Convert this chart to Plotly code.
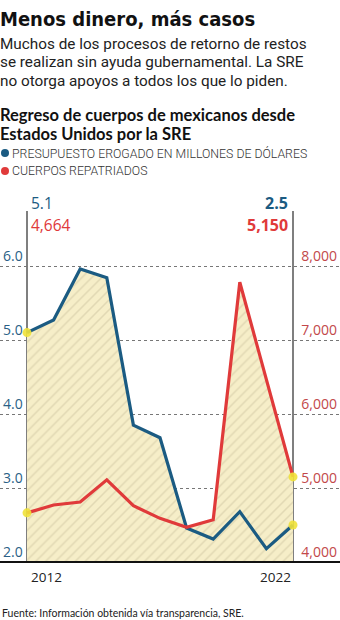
import plotly.graph_objects as go

years = list(range(2012, 2023))
presupuesto = [5.1, 5.27, 5.96, 5.84, 3.85, 3.68, 2.46, 2.31, 2.68, 2.18, 2.5]
cuerpos = [4664, 4770, 4810, 5110, 4760, 4590, 4470, 4570, 7780, 6450, 5150]
left_ticks = [2, 3, 4, 5, 6]
left_labels = ["2.0", "3.0", "4.0", "5.0", "6.0"]
right_ticks = [4000, 5000, 6000, 7000, 8000]
right_labels = ["4,000", "5,000", "6,000", "7,000", "8,000"]

BLUE = "#1b5b82"
RED = "#e03a3a"
RED_TXT = "#c2484a"
YELLOW = "#f0e23a"
BG_FILL = "#f6eec8"
HATCH = "#cbc29e"

W, H = 340, 620
TOP, BOT = 211, 562


def py(p):
    return (BOT - p) / (BOT - TOP)


unit = 74.0
ytop = 2 + (BOT - TOP) / unit
xpx = (293 - 27) / 10.0
xr = [2012 - 27 / xpx, 2022 + (W - 293) / xpx]

fig = go.Figure()

pattern = dict(shape="/", bgcolor=BG_FILL, fgcolor=HATCH, size=7, solidity=0.22)

fig.add_trace(go.Scatter(x=years, y=presupuesto, yaxis="y", mode="none", fill="tozeroy",
                         fillcolor=BG_FILL, fillpattern=pattern, hoverinfo="skip"))
fig.add_trace(go.Scatter(x=years, y=cuerpos, yaxis="y2", mode="none", fill="tozeroy",
                         fillcolor=BG_FILL, fillpattern=pattern, hoverinfo="skip"))
fig.add_trace(go.Scatter(x=years, y=presupuesto, yaxis="y3", mode="lines",
                         line=dict(color=BLUE, width=3.2)))
fig.add_trace(go.Scatter(x=years, y=cuerpos, yaxis="y4", mode="lines",
                         line=dict(color=RED, width=3.2)))
fig.add_trace(go.Scatter(x=[years[0], years[-1]], y=[presupuesto[0], presupuesto[-1]], yaxis="y3",
                         mode="markers", marker=dict(color=YELLOW, size=9, opacity=0.9)))
fig.add_trace(go.Scatter(x=[years[0], years[-1]], y=[cuerpos[0], cuerpos[-1]], yaxis="y4",
                         mode="markers", marker=dict(color=YELLOW, size=9, opacity=0.9)))

fig.update_layout(
    width=W, height=H,
    margin=dict(l=0, r=0, t=TOP, b=H - BOT),
    paper_bgcolor="white", plot_bgcolor="white",
    showlegend=False,
    xaxis=dict(range=xr, showgrid=False, zeroline=False, showticklabels=False, ticks=""),
    yaxis=dict(range=[2, ytop], tickvals=left_ticks, ticktext=left_labels,
               ticklabelposition="inside top", showgrid=True, gridcolor="#777",
               griddash="dot", gridwidth=1, zeroline=False, ticks="",
               tickfont=dict(family="Open Sans", size=14, color="#2a5f86")),
    yaxis2=dict(range=[4000, 4000 + (ytop - 2) * 1000], overlaying="y", side="right",
                tickvals=right_ticks, ticktext=right_labels, ticklabelposition="inside top",
                showgrid=False, zeroline=False, ticks="",
                tickfont=dict(family="Open Sans", size=14, color=RED_TXT)),
    yaxis3=dict(range=[2, ytop], overlaying="y", visible=False),
    yaxis4=dict(range=[4000, 4000 + (ytop - 2) * 1000], overlaying="y", visible=False),
)

fig.add_shape(type="line", xref="paper", yref="paper", x0=0, x1=1, y0=0, y1=0,
              line=dict(color="#111", width=2))
for yr in [2012, 2022]:
    fig.add_shape(type="line", xref="x", yref="paper", x0=yr, x1=yr, y0=0, y1=1,
                  line=dict(color="#555", width=1.5), layer="below")

for cy, col in [(153, BLUE), (171, RED)]:
    fig.add_shape(type="circle", xref="paper", yref="paper", xsizemode="pixel", ysizemode="pixel",
                  xanchor=0, yanchor=py(cy), x0=1, x1=9, y0=-4, y1=4,
                  fillcolor=col, line=dict(width=0))

ann = []


def text(x, y, s, size, color="#111", family="Roboto", xanchor="left", xref="paper", weight=None,
         xshift=0):
    f = dict(family=family, size=size, color=color)
    if weight:
        f["weight"] = weight
    ann.append(dict(x=x, y=py(y), xref=xref, yref="paper", text=s, showarrow=False,
                    xanchor=xanchor, yanchor="middle", font=f, borderpad=0, xshift=xshift))


text(0, 19, "<span style='font-stretch:condensed'>Menos dinero, más casos</span>", 20, "#111",
     "DejaVu Sans Condensed", weight="bold", xshift=-1)
text(0, 44, "Muchos de los procesos de retorno de restos", 15.3, "#222", "Roboto", xshift=-1)
text(0, 62.5, "se realizan sin ayuda gubernamental. La SRE", 15.3, "#222", "Roboto", xshift=-1)
text(0, 81, "no otorga apoyos a todos los que lo piden.", 15.3, "#222", "Roboto", xshift=-1)
text(0, 115, "Regreso de cuerpos de mexicanos desde", 16.5, "#111", "Lato", weight="bold", xshift=-1)
text(0, 134, "Estados Unidos por la SRE", 16.5, "#111", "Lato", weight="bold", xshift=-1)
text(0, 153, "PRESUPUESTO EROGADO EN MILLONES DE DÓLARES", 12.3, "#333", "Roboto", weight=300, xshift=11)
text(0, 171, "CUERPOS REPATRIADOS", 12.3, "#333", "Roboto", weight=300, xshift=11)

text(2012, 203, "%.1f" % presupuesto[0], 15.5, BLUE, "Open Sans", xref="x", xshift=3)
text(2012, 225, "{:,}".format(cuerpos[0]), 15.5, RED, "Open Sans", xref="x", xshift=3)
text(2022, 203, "%.1f" % presupuesto[-1], 16, BLUE, "Open Sans", xanchor="right", xref="x",
     weight="bold", xshift=-4)
text(2022, 225, "{:,}".format(cuerpos[-1]), 16, RED, "Open Sans", xanchor="right", xref="x",
     weight="bold", xshift=-4)

text(2012, 577, str(years[0]), 13.5, "#222", "Open Sans", xref="x", xshift=3)
text(2022, 577, str(years[-1]), 13.5, "#222", "Open Sans", xanchor="right", xref="x", xshift=-1)

text(0, 613, "Fuente: Información obtenida vía transparencia, SRE.", 10.5, "#222", "Lato", xshift=1)

fig.update_layout(annotations=ann)

fig.write_html("out.html")
